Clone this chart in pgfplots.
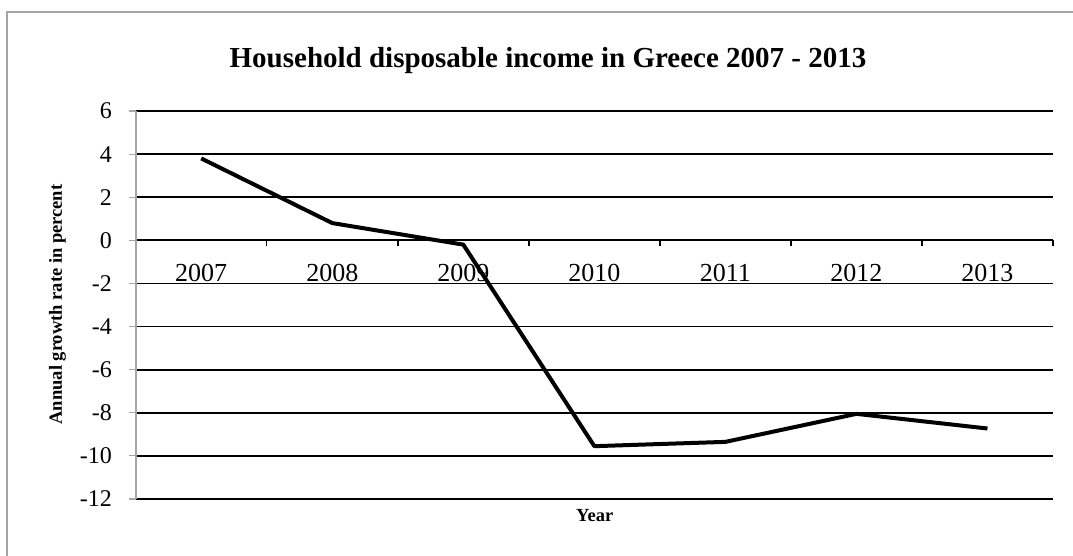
\documentclass[border=0pt]{standalone}
\usepackage{fontspec}
\setmainfont{Liberation Serif}
\usepackage{pgfplots}
\pgfplotsset{compat=1.18}
\definecolor{frame}{RGB}{165,165,165}
\begin{document}
\begin{tikzpicture}
\useasboundingbox (0,0) rectangle (1073pt,556pt);
\fill[white] (0,0) rectangle (1073pt,556pt);
\draw[frame, line width=2pt] (7.3pt,-2pt) -- (7.3pt,543.7pt) -- (1076pt,543.7pt);
\begin{axis}[
  at={(135.7pt,57pt)}, anchor=south west, scale only axis,
  width=917.3pt, height=388pt,
  xmin=-0.5, xmax=6.5, ymin=-12, ymax=6,
  axis x line*=middle, axis y line*=left,
  hide obscured x ticks=false,
  xtick={0,...,6}, xticklabels={2007,2008,2009,2010,2011,2012,2013},
  minor xtick={-0.5,0.5,...,6.5},
  ytick={-12,-10,...,6}, yticklabels={-12,-10,-8,-6,-4,-2,0,2,4,6},
  tick align=outside,
  major x tick style={draw=none},
  minor x tick style={black, line width=1.5pt},
  minor tick length=6pt,
  major tick length=7pt,
  y tick style={frame, line width=1.2pt},
  x axis line style={-, black, line width=1.8pt},
  y axis line style={-, frame, line width=1.8pt},
  ymajorgrids, grid style={black, line width=1.8pt},
  xticklabel style={font=\fontsize{26}{28}\selectfont, inner sep=0pt, anchor=north, yshift=-17pt},
  yticklabel style={font=\fontsize{24}{26}\selectfont, inner sep=0pt, anchor=east, xshift=-16.7pt},
  clip=false,
]
\addplot[black, line width=4pt, line join=round] coordinates {(0,3.8)(1,0.8)(2,-0.2)(3,-9.55)(4,-9.35)(5,-8.05)(6,-8.73)};
\end{axis}
\node[anchor=base, font=\fontsize{29}{32}\selectfont\bfseries] at (548pt,488.6pt) {Household disposable income in Greece 2007 - 2013};
\node[anchor=base, font=\fontsize{18.5}{20}\selectfont\bfseries] at (594.7pt,34pt) {Year};
\node[rotate=90, font=\fontsize{18.5}{20}\selectfont\bfseries] at (57.5pt,251.5pt) {Annual growth rate in percent};
\end{tikzpicture}
\end{document}
